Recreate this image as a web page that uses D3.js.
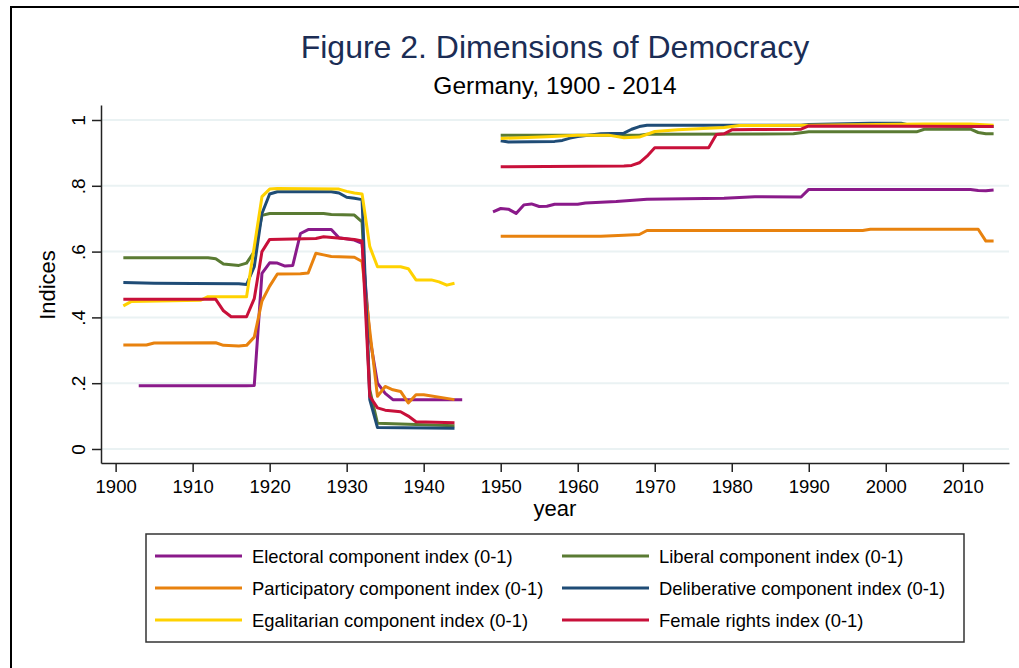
<!DOCTYPE html>
<html>
<head>
<meta charset="utf-8">
<script src="https://cdn.jsdelivr.net/npm/d3@7"></script>
<style>
  body { margin: 0; background: #fff; }
  text { font-family: "Liberation Sans", Arial, sans-serif; }
</style>
</head>
<body>
<svg id="chart" width="1019" height="668"></svg>
<script>
// values, [year, value]; null marks the 1945-1949 gap
var electoral = [[1903,.192],[1917,.192],[1918,.193],[1919,.534],[1920,.566],[1921,.565],[1922,.556],[1923,.558],[1924,.655],[1925,.667],[1928,.667],[1929,.642],[1931,.635],[1932,.625],[1933,.34],[1934,.2],[1935,.169],[1936,.15],[1945,.15],
  [1947,null],[1949,.721],[1950,.731],[1951,.729],[1952,.716],[1953,.742],[1954,.745],[1955,.737],[1956,.738],[1957,.744],[1960,.744],[1961,.748],[1965,.752],[1969,.759],[1979,.762],[1983,.767],[1989,.766],[1990,.789],[2011,.789],[2012,.786],[2013,.785],[2014,.787]];
var liberal = [[1901,.581],[1912,.581],[1913,.578],[1914,.562],[1916,.558],[1917,.565],[1918,.6],[1919,.71],[1920,.716],[1927,.716],[1928,.713],[1931,.711],[1932,.69],[1933,.18],[1934,.078],[1944,.071],
  [1947,null],[1950,.954],[1968,.954],[1969,.957],[1988,.958],[1990,.964],[2004,.964],[2005,.972],[2011,.972],[2012,.962],[2013,.958],[2014,.958]];
var participatory = [[1901,.316],[1904,.316],[1905,.322],[1913,.323],[1914,.315],[1916,.313],[1917,.315],[1918,.34],[1919,.45],[1920,.495],[1921,.532],[1924,.533],[1925,.535],[1926,.595],[1927,.59],[1928,.585],[1931,.583],[1932,.57],[1933,.36],[1934,.16],[1935,.19],[1936,.18],[1937,.175],[1938,.14],[1939,.165],[1940,.165],[1944,.15],
  [1947,null],[1950,.647],[1963,.647],[1966,.65],[1968,.652],[1969,.664],[1997,.664],[1998,.668],[2012,.668],[2013,.632],[2014,.632]];
var deliberative = [[1901,.506],[1905,.504],[1910,.503],[1916,.502],[1917,.5],[1918,.554],[1919,.716],[1920,.775],[1921,.782],[1928,.782],[1929,.778],[1930,.765],[1931,.762],[1932,.758],[1933,.15],[1934,.065],[1944,.063],
  [1947,null],[1950,.937],[1951,.933],[1957,.935],[1958,.938],[1959,.945],[1960,.95],[1963,.958],[1966,.96],[1967,.972],[1968,.98],[1969,.984],[1989,.984],[1990,.986],[1998,.99],[2002,.99],[2003,.985],[2014,.98]];
var egalitarian = [[1901,.435],[1902,.448],[1911,.452],[1912,.463],[1917,.463],[1918,.615],[1919,.767],[1920,.79],[1921,.792],[1929,.79],[1930,.783],[1931,.778],[1932,.775],[1933,.615],[1934,.554],[1937,.554],[1938,.548],[1939,.514],[1941,.514],[1942,.508],[1943,.498],[1944,.504],
  [1947,null],[1950,.944],[1956,.949],[1960,.954],[1964,.954],[1966,.946],[1968,.948],[1970,.965],[1973,.97],[1979,.977],[1981,.983],[1990,.984],[2005,.988],[2011,.988],[2014,.984]];
var female = [[1901,.455],[1913,.455],[1914,.42],[1915,.402],[1917,.402],[1918,.457],[1919,.6],[1920,.637],[1926,.64],[1927,.645],[1931,.637],[1932,.632],[1933,.16],[1934,.125],[1935,.118],[1937,.113],[1938,.1],[1939,.083],[1944,.08],
  [1947,null],[1950,.858],[1966,.86],[1967,.862],[1968,.87],[1969,.89],[1970,.916],[1977,.916],[1978,.956],[1979,.958],[1980,.97],[1983,.971],[1989,.972],[1990,.982],[2014,.98]];

var seriesNames = ["Electoral component index (0-1)", "Liberal component index (0-1)",
  "Participatory component index (0-1)", "Deliberative component index (0-1)",
  "Egalitarian component index (0-1)", "Female rights index (0-1)"];
var seriesData = [electoral, liberal, participatory, deliberative, egalitarian, female];
var seriesColors = ["#8a1a8a", "#5a7b33", "#e8820e", "#1f4c76", "#ffd200", "#c8103a"];

var xTicks = [1900, 1910, 1920, 1930, 1940, 1950, 1960, 1970, 1980, 1990, 2000, 2010];
var yTicks = [0, .2, .4, .6, .8, 1];
var yTickLabels = ["0", ".2", ".4", ".6", ".8", "1"];

var svg = d3.select('#chart');

// outer frame (only top/left edges fall inside the picture)
svg.append('rect')
    .attr('x', 11).attr('y', 7)
    .attr('width', 1040).attr('height', 700)
    .attr('fill', 'none')
    .attr('stroke', '#000')
    .attr('stroke-width', 2);

var x = d3.scaleLinear().domain([1898.1, 2016]).range([101, 1009]);
var y = d3.scaleLinear().domain([-0.0426, 1.0456]).range([463, 105]);

// grid
svg.append('g').selectAll('line')
    .data(yTicks)
  .enter().append('line')
    .attr('x1', 101).attr('x2', 1009)
    .attr('y1', function(d) { return y(d); })
    .attr('y2', function(d) { return y(d); })
    .attr('stroke', '#eaf2f3')
    .attr('stroke-width', 2);

// series
var line = d3.line()
    .defined(function(d) { return d[1] !== null; })
    .x(function(d) { return x(d[0]); })
    .y(function(d) { return y(d[1]); });

svg.append('g').selectAll('path')
    .data(seriesData)
  .enter().append('path')
    .attr('d', line)
    .attr('fill', 'none')
    .attr('stroke', function(d, i) { return seriesColors[i]; })
    .attr('stroke-width', 3)
    .attr('stroke-linejoin', 'round');

// axes
var xAxis = svg.append('g')
    .attr('transform', 'translate(0,463)')
    .call(d3.axisBottom(x).tickValues(xTicks).tickFormat(d3.format('d')).tickSize(9).tickSizeOuter(0));
xAxis.selectAll('text').attr('font-size', 18.5).attr('fill', '#000').attr('dy', '0.95em');

var yAxis = svg.append('g')
    .attr('transform', 'translate(101,0)')
    .call(d3.axisLeft(y).tickValues(yTicks).tickFormat(function(d, i) { return yTickLabels[i]; }).tickSize(9).tickSizeOuter(0));
yAxis.selectAll('text')
    .attr('font-size', 19).attr('fill', '#000')
    .attr('x', 0).attr('dy', 0)
    .attr('text-anchor', 'middle')
    .attr('transform', 'translate(-23,0) rotate(-90)')
    .attr('dominant-baseline', 'central');

svg.selectAll('.domain, .tick line').attr('stroke', '#222').attr('stroke-width', 1.5);

// titles
svg.append('text')
    .attr('x', 555).attr('y', 58)
    .attr('text-anchor', 'middle')
    .attr('font-size', 32)
    .attr('fill', '#1b2d55')
    .text('Figure 2. Dimensions of Democracy');
svg.append('text')
    .attr('x', 555).attr('y', 94)
    .attr('text-anchor', 'middle')
    .attr('font-size', 24.5)
    .text('Germany, 1900 - 2014');
svg.append('text')
    .attr('x', 555).attr('y', 516)
    .attr('text-anchor', 'middle')
    .attr('font-size', 22)
    .text('year');
svg.append('text')
    .attr('transform', 'translate(55,285) rotate(-90)')
    .attr('text-anchor', 'middle')
    .attr('font-size', 22)
    .text('Indices');

// legend
var legend = svg.append('g');
legend.append('rect')
    .attr('x', 146).attr('y', 534)
    .attr('width', 818).attr('height', 108)
    .attr('fill', '#fff')
    .attr('stroke', '#333')
    .attr('stroke-width', 1.5);

var item = legend.selectAll('.item')
    .data(seriesNames)
  .enter().append('g')
    .attr('class', 'item')
    .attr('transform', function(d, i) {
      return 'translate(' + (i % 2 === 0 ? 155 : 562) + ',' + (556 + Math.floor(i / 2) * 32) + ')';
    });
item.append('line')
    .attr('x1', 0).attr('x2', 87)
    .attr('stroke', function(d, i) { return seriesColors[i]; })
    .attr('stroke-width', 3);
item.append('text')
    .attr('x', 97)
    .attr('dominant-baseline', 'central')
    .attr('font-size', 18.4)
    .text(function(d) { return d; });
</script>
</body>
</html>
